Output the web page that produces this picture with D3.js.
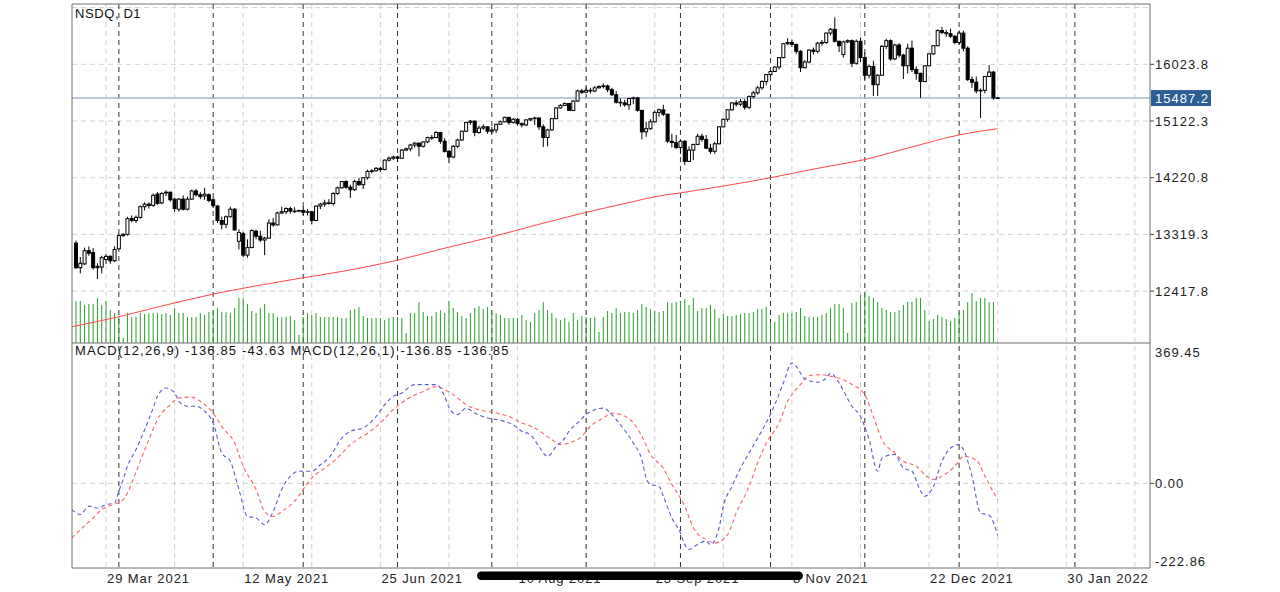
<!DOCTYPE html>
<html><head><meta charset="utf-8">
<script src="https://cdn.jsdelivr.net/npm/d3@7"></script>
<style>
html,body{margin:0;padding:0;background:#fff;}
svg{display:block;}
text{font-family:"Liberation Sans",Arial,Helvetica,sans-serif;}
</style></head><body>
<svg id="chart" width="1280" height="592"></svg>
<script>
const symbolTitle = "NSDQ, D1";
const macdTitle = "MACD(12,26,9) -136.85 -43.63 MACD(12,26,1) -136.85 -136.85";
const lastPrice = 15487.2;
const priceTicks = [12417.8, 13319.3, 14220.8, 15122.3, 16023.8, 16925.3];
const macdTicks = [369.45, 0.00, -222.86];
const dateLabels = ["29 Mar 2021","12 May 2021","25 Jun 2021","10 Aug 2021","23 Sep 2021","8 Nov 2021","22 Dec 2021","30 Jan 2022"];
const dateLabelIdx = [7, 39, 71, 103, 135, 167, 199, 231];
const monthStartIdx = [10, 32, 53, 75, 97, 119, 141, 162, 184, 206, 233];

const opens = [13180,12790,12850,13060,13030,12790,12800,12920,12970,12900,
13090,13300,13320,13570,13540,13590,13760,13800,13780,13960,
13820,13980,13990,13880,13720,13880,13720,13880,14010,13950,
13930,13950,13870,13770,13540,13480,13600,13720,13210,13330,
12990,13110,13370,13290,13230,13260,13500,13470,13660,13680,
13730,13690,13690,13700,13670,13680,13540,13770,13800,13820,
13810,13970,14060,14160,14070,14030,14160,14110,14220,14320,
14330,14370,14350,14500,14530,14550,14530,14660,14680,14740,
14770,14720,14790,14860,14860,14940,14800,14640,14550,14720,
14820,14960,15100,15120,14940,15010,15030,14960,14980,15070,
15110,15180,15100,15150,15080,15060,15140,15160,15170,15030,
14860,14980,15160,15330,15370,15400,15290,15440,15600,15580,
15610,15600,15650,15670,15680,15620,15540,15420,15410,15380,
15480,15490,15290,14950,15000,15110,15260,15300,15230,14800,
14780,14700,14800,14480,14660,14750,14880,14830,14690,14640,
14760,15030,15150,15300,15410,15390,15430,15340,15510,15570,
15650,15750,15860,15910,15980,16130,16350,16370,16340,16230,
15970,16060,16250,16230,16360,16370,16520,16580,16390,16180,
16380,16400,16040,16390,16130,15850,15990,15700,15850,16310,
16400,16110,16330,16170,16000,16280,15940,15880,15750,16000,
16190,16320,16560,16530,16510,16470,16370,16520,16280,15780,
15740,15600,15610,15830,15900,15490];
const highs = [13220,12960,13110,13130,13100,12860,12980,13010,12990,13130,
13330,13340,13600,13620,13620,13780,13830,13830,13970,13990,
13990,14020,14000,13900,13900,13940,13920,14030,14040,13990,
14060,13970,13900,13790,13600,13620,13760,13740,13400,13360,
13240,13400,13390,13380,13280,13560,13580,13680,13760,13750,
13760,13750,13710,13760,13720,13690,13780,13820,13870,13880,
13990,14080,14170,14180,14110,14190,14220,14230,14350,14360,
14390,14390,14510,14560,14570,14570,14680,14700,14760,14790,
14780,14800,14870,14900,14960,14950,14850,14660,14740,14840,
14970,15110,15140,15130,15050,15070,15040,15030,15080,15130,
15190,15190,15170,15170,15100,15150,15170,15190,15180,15070,
15000,15170,15340,15390,15420,15410,15450,15620,15630,15660,
15650,15680,15690,15720,15700,15650,15600,15480,15460,15490,
15510,15500,15300,15110,15150,15290,15320,15380,15240,14920,
14900,14820,14820,14720,14760,14920,14920,14900,14760,14790,
15040,15160,15310,15420,15450,15470,15470,15530,15600,15680,
15770,15870,15930,15990,16140,16360,16440,16420,16350,16250,
16090,16260,16290,16380,16410,16530,16600,16770,16400,16400,
16420,16420,16420,16450,16210,16020,16080,15870,16330,16430,
16420,16350,16360,16190,16350,16400,15990,15890,16010,16200,
16330,16580,16620,16570,16590,16490,16560,16560,16310,15830,
15830,15640,15840,16010,15920,15500];
const lows = [12770,12700,12830,12980,12760,12610,12700,12850,12850,12880,
13080,13280,13300,13510,13500,13570,13700,13730,13760,13790,
13800,13930,13840,13680,13680,13700,13700,13870,13920,13880,
13870,13830,13740,13500,13400,13420,13590,13380,13080,12960,
12950,13100,13240,13200,12990,13250,13440,13460,13640,13640,
13650,13660,13670,13620,13620,13480,13530,13720,13760,13790,
13780,13950,14050,14040,13900,14010,14090,14040,14190,14290,
14320,14310,14340,14480,14500,14470,14520,14650,14640,14700,
14560,14700,14770,14820,14850,14760,14620,14450,14530,14690,
14810,14950,15060,14880,14920,14980,14920,14920,14930,15060,
15100,15060,15080,15050,15020,15040,15120,15060,14980,14710,
14720,14970,15150,15320,15360,15280,15280,15430,15550,15570,
15560,15580,15640,15640,15580,15520,15400,15350,15350,15300,
15390,15270,14830,14870,14980,15100,15190,15200,14770,14700,
14680,14600,14420,14470,14500,14740,14790,14680,14600,14600,
14750,15020,15110,15290,15350,15360,15300,15310,15480,15540,
15620,15690,15830,15900,15940,16120,16330,16300,16190,15900,
15960,16040,16180,16200,16320,16350,16480,16370,16220,16130,
16360,15980,16020,16060,15780,15800,15520,15520,15840,16270,
16080,16090,16130,15790,15880,15900,15780,15490,15740,15990,
16170,16310,16500,16460,16440,16340,16340,16230,15760,15650,
15560,15170,15560,15820,15460,15470];
const closes = [12790,12860,13060,13020,12790,12810,12950,12970,12900,13080,
13300,13320,13570,13540,13590,13760,13800,13780,13940,13810,
13970,13990,13870,13730,13880,13720,13880,14010,13950,13920,
13960,13860,13780,13540,13480,13600,13720,13390,13350,12990,
13110,13380,13290,13230,13260,13500,13470,13660,13680,13730,
13690,13690,13700,13670,13680,13540,13770,13800,13820,13810,
13970,14060,14160,14070,14030,14160,14110,14220,14320,14330,
14370,14350,14500,14530,14550,14530,14660,14680,14740,14770,
14720,14790,14860,14860,14940,14800,14640,14550,14720,14820,
14960,15100,15120,14940,15010,15030,14960,14980,15070,15110,
15180,15100,15150,15080,15060,15140,15160,15170,15030,14860,
14980,15160,15330,15370,15400,15290,15440,15600,15580,15610,
15600,15650,15670,15680,15620,15540,15420,15410,15380,15480,
15490,15290,14950,15000,15110,15260,15300,15230,14800,14780,
14700,14800,14480,14660,14750,14880,14830,14690,14640,14760,
15030,15150,15300,15410,15390,15430,15340,15510,15570,15650,
15750,15860,15910,15980,16130,16350,16370,16340,16230,15970,
16060,16250,16230,16360,16370,16520,16580,16390,16320,16380,
16400,16040,16390,16130,15850,15990,15700,15850,16310,16400,
16110,16330,16170,16000,16280,15940,15880,15750,16000,16190,
16320,16560,16530,16510,16470,16370,16520,16280,15780,15740,
15600,15610,15830,15900,15490,15487.2];
const volumes = [42000,42000,38000,39000,39000,45000,38000,42000,33000,30000,
26000,5000,30000,26000,26000,30000,29000,30000,30000,30000,
29000,30000,28000,35000,30000,30000,26000,26000,26000,30000,
28000,31000,32000,35000,31000,31000,30000,35000,45000,45000,
39000,32000,30000,35000,39000,30000,30000,26000,26000,26000,
27000,23000,8000,26000,30000,28000,30000,26000,26000,26000,
26000,26000,25000,25000,33000,34000,36000,27000,25000,25000,
25000,25000,23000,25000,26000,26000,25000,10000,30000,30000,
41000,31000,27000,27000,31000,33000,30000,42000,35000,31000,
27000,25000,30000,35000,37000,34000,36000,32000,30000,28000,
25000,25000,25000,25000,28000,23000,21000,30000,33000,41000,
33000,30000,25000,23000,25000,21000,30000,23000,27000,26000,
25000,26000,11000,26000,32000,30000,35000,30000,31000,31000,
30000,33000,39000,36000,34000,32000,31000,32000,41000,40000,
41000,42000,44000,38000,45000,32000,35000,35000,38000,34000,
25000,29000,27000,27000,28000,29000,30000,30000,31000,34000,
34000,36000,21000,21000,28000,30000,30000,30000,31000,35000,
27000,26000,26000,26000,28000,30000,35000,39000,39000,35000,
10000,40000,41000,48000,50000,47000,45000,41000,35000,33000,
31000,31000,33000,38000,41000,41000,45000,45000,33000,22000,
24000,28000,26000,24000,22000,25000,30000,33000,41000,50000,
42000,45000,45000,41000,41000,1000];
// moving average (red) read at bar indices
const maIdx = [-1,10,20,32,42,53,62,75,86,97,108,119,128,136,141,152,162,173,184,195,206,215];
const maVal = [11850,12010,12180,12370,12500,12630,12730,12910,13100,13280,13480,13670,13810,13930,13980,14100,14220,14370,14510,14710,14900,15000];
// MACD main (blue) read at bar indices
const macdIdx = [-1,1,3,5,7,9,10,11,12,14,16,18,19,21,23,24,26,28,30,32,34,36,38,40,42,44,46,48,50,52,55,57,59,62,64,67,70,72,74,76,79,81,84,86,87,88,89,91,93,96,98,100,102,104,106,108,110,112,114,115,117,119,121,123,125,127,129,130,132,133,134,136,137,139,141,142,143,145,147,148,150,151,153,155,157,159,161,163,165,167,168,170,173,175,176,178,181,183,185,187,188,191,193,195,197,198,200,202,204,206,207,209,211,213,215];
const macdVal = [-69,-82,-60,-65,-56,-52,-20,10,45,89,141,198,229,251,238,216,203,203,190,159,80,58,-16,-87,-91,-109,-74,-16,19,32,32,49,67,119,137,146,176,207,229,238,260,260,260,229,200,185,181,198,185,172,168,163,154,137,128,97,71,97,119,137,159,181,194,198,181,154,124,106,62,14,-3,-8,-34,-91,-131,-161,-174,-161,-152,-161,-117,-60,-8,40,80,119,159,207,264,317,308,275,266,277,290,264,203,176,115,32,67,76,40,32,-20,-34,-8,58,93,102,89,19,-78,-84,-136.85];
// MACD signal (red) read at bar indices
const sigIdx = [-1,1,4,6,8,11,12,14,17,19,22,24,27,29,32,34,37,39,42,44,46,48,51,53,55,58,61,64,68,71,74,77,81,84,86,89,91,94,98,101,104,107,111,113,115,118,120,123,125,127,130,132,134,137,139,142,144,147,149,152,154,157,159,161,164,166,169,171,174,176,179,181,184,186,188,191,193,196,198,200,202,205,207,210,212,215];
const sigVal = [-144,-122,-91,-69,-59,-43,-25,30,115,168,207,225,227,216,185,150,106,45,-16,-74,-87,-74,-47,-16,14,40,67,102,132,159,194,220,242,255,247,225,207,194,185,176,159,146,115,102,106,124,150,172,185,181,159,124,76,40,-3,-60,-117,-148,-157,-135,-78,-8,54,106,159,216,260,284,286,282,273,260,233,176,115,80,58,45,23,10,19,45,71,62,19,-43.63];

const svg = d3.select("#chart");
const L = 72, R = 1150, T = 4, M = 343, B = 568;

const x = d3.scaleLinear().domain([0, closes.length - 1]).range([76, 997.7]);
const yP = d3.scaleLinear().domain([priceTicks[0], priceTicks[4]]).range([291.1, 64.3]);
const yV = d3.scaleLinear().domain([0, d3.max(volumes)]).range([M, M - 50]);
const yM = d3.scaleLinear().domain([macdTicks[2], macdTicks[0]]).range([B, M]);

const defs = svg.append("defs");
defs.append("clipPath").attr("id","cm").append("rect").attr("x",L).attr("y",T).attr("width",R-L).attr("height",M-T);
defs.append("clipPath").attr("id","cd").append("rect").attr("x",L).attr("y",M).attr("width",R-L).attr("height",B-M);

const grid = svg.append("g");
// horizontal price grid
grid.selectAll(".hp").data(priceTicks).join("line")
  .attr("x1",L).attr("x2",R).attr("y1",d=>yP(d)).attr("y2",d=>yP(d))
  .attr("stroke","#d2d2d2").attr("stroke-width",1).attr("stroke-dasharray","5,4")
  .attr("clip-path","url(#cm)");
grid.append("line").attr("x1",L).attr("x2",R).attr("y1",yM(0)).attr("y2",yM(0))
  .attr("stroke","#d2d2d2").attr("stroke-width",1).attr("stroke-dasharray","5,4");
// vertical light grid (every 16 bars)
const vGrid = d3.range(dateLabelIdx[0], x.invert(R), 16);
grid.selectAll(".vg").data(vGrid).join("line")
  .attr("x1",d=>x(d)).attr("x2",d=>x(d)).attr("y1",T).attr("y2",B)
  .attr("stroke","#cfcfcf").attr("stroke-width",1).attr("stroke-dasharray","5,4");
// month separators
grid.selectAll(".ms").data(monthStartIdx).join("line")
  .attr("x1",d=>x(d)).attr("x2",d=>x(d)).attr("y1",T).attr("y2",B)
  .attr("stroke","#333").attr("stroke-width",1).attr("stroke-dasharray","5,4");

const main = svg.append("g").attr("clip-path","url(#cm)");
// volumes
main.selectAll(".vol").data(volumes).join("line")
  .attr("x1",(d,i)=>x(i)).attr("x2",(d,i)=>x(i)).attr("y1",yV(0)).attr("y2",d=>yV(d))
  .attr("stroke","#2a9f2a").attr("stroke-width",1);
// moving average
const maPts = maIdx.map((d,i)=>[d, maVal[i]]);
main.append("path").datum(maPts)
  .attr("d", d3.line().x(d=>x(d[0])).y(d=>yP(d[1])).curve(d3.curveMonotoneX))
  .attr("fill","none").attr("stroke","#ff4646").attr("stroke-width",1);
// price line
main.append("line").attr("x1",L).attr("x2",R).attr("y1",yP(lastPrice)).attr("y2",yP(lastPrice))
  .attr("stroke","#a4b9ce").attr("stroke-width",1.6);
// candles
const candles = main.selectAll(".c").data(closes).join("g");
candles.append("line")
  .attr("x1",(d,i)=>x(i)).attr("x2",(d,i)=>x(i))
  .attr("y1",(d,i)=>yP(highs[i])).attr("y2",(d,i)=>yP(lows[i]))
  .attr("stroke","#000").attr("stroke-width",1);
candles.append("rect")
  .attr("x",(d,i)=>x(i)-1.5).attr("width",3)
  .attr("y",(d,i)=>yP(Math.max(opens[i],d)))
  .attr("height",(d,i)=>Math.max(0.6, Math.abs(yP(opens[i])-yP(d))))
  .attr("fill",(d,i)=> d>=opens[i] ? "#fff" : "#000")
  .attr("stroke","#000").attr("stroke-width",1);

// MACD lines
const macdG = svg.append("g").attr("clip-path","url(#cd)");
const sigPts = sigIdx.map((d,i)=>[d, sigVal[i]]);
const macdPts = macdIdx.map((d,i)=>[d, macdVal[i]]);
const mline = d3.line().x(d=>x(d[0])).y(d=>yM(d[1])).curve(d3.curveMonotoneX);
macdG.append("path").datum(sigPts).attr("d",mline)
  .attr("fill","none").attr("stroke","#ff6060").attr("stroke-width",1.1).attr("stroke-dasharray","4,3");
macdG.append("path").datum(macdPts).attr("d",mline)
  .attr("fill","none").attr("stroke","#5a5ad2").attr("stroke-width",1.1).attr("stroke-dasharray","4,3");

// frame
const fr = svg.append("g").attr("stroke","#6f6f6f").attr("stroke-width",1);
fr.append("line").attr("x1",L).attr("x2",L).attr("y1",T).attr("y2",B);
fr.append("line").attr("x1",R).attr("x2",R).attr("y1",T).attr("y2",B);
fr.append("line").attr("x1",L).attr("x2",R).attr("y1",T).attr("y2",T);
fr.append("line").attr("x1",L).attr("x2",R).attr("y1",M).attr("y2",M);
fr.append("line").attr("x1",L).attr("x2",R).attr("y1",B).attr("y2",B);

// right price labels
const shownPrices = priceTicks.filter(p => yP(p) > T + 10 && yP(p) < M - 8);
svg.selectAll(".pt").data(shownPrices).join("line")
  .attr("x1",R).attr("x2",R+4).attr("y1",d=>yP(d)).attr("y2",d=>yP(d))
  .attr("stroke","#444").attr("stroke-width",1);
svg.selectAll(".pl").data(shownPrices).join("text")
  .attr("x",R+5).attr("y",d=>yP(d)).attr("dy","0.35em")
  .attr("font-size",13).attr("letter-spacing",1).attr("fill","#222")
  .text(d=>d.toFixed(1));
// last price box
svg.append("rect").attr("x",R+1).attr("y",yP(lastPrice)-8).attr("width",60).attr("height",16).attr("fill","#2c5e95");
svg.append("text").attr("x",R+5).attr("y",yP(lastPrice)).attr("dy","0.35em")
  .attr("font-size",13).attr("letter-spacing",1).attr("fill","#fff").text(lastPrice.toFixed(1));
// MACD labels
svg.append("line").attr("x1",R).attr("x2",R+4).attr("y1",yM(0)).attr("y2",yM(0)).attr("stroke","#444");
svg.selectAll(".ml").data(macdTicks).join("text")
  .attr("x",R+5).attr("y",d=>Math.min(B-7, Math.max(M+9, yM(d)))).attr("dy","0.35em")
  .attr("font-size",13).attr("letter-spacing",1).attr("fill","#222")
  .text(d=>d.toFixed(2));

// date labels
svg.selectAll(".dl").data(dateLabels).join("text")
  .attr("x",(d,i)=>x(dateLabelIdx[i])+1).attr("y",583)
  .attr("font-size",13).attr("letter-spacing",0.9).attr("fill","#222")
  .text(d=>d);

// titles
svg.append("text").attr("x",75).attr("y",18).attr("font-size",13).attr("letter-spacing",0.6).attr("fill","#111").text(symbolTitle);
svg.append("text").attr("x",75).attr("y",355).attr("font-size",13).attr("letter-spacing",1.15).attr("fill","#111").text(macdTitle);

// scroll indicator overlay
svg.append("rect").attr("x",477).attr("y",571.5).attr("width",326).attr("height",8.5).attr("rx",4.25).attr("fill","#000");
</script>
</body></html>
